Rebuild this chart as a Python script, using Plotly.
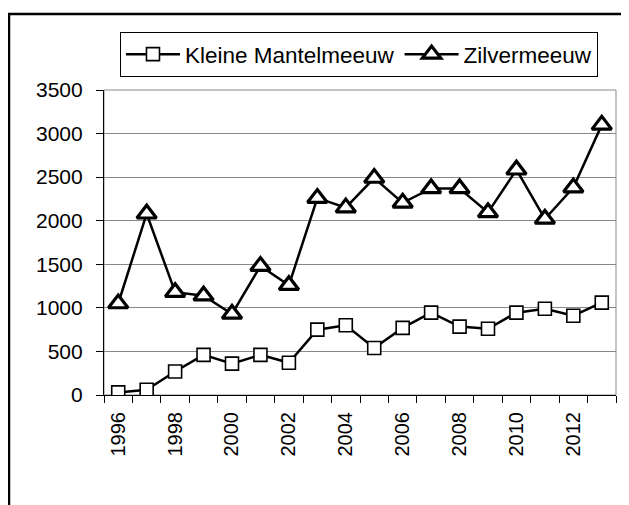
import plotly.graph_objects as go

# ---------------------------------------------------------------------
# Data
# ---------------------------------------------------------------------
YEARS = list(range(1996, 2014))
KLEINE_MANTELMEEUW = [30, 60, 270, 460, 360, 460, 370, 750, 800, 540,
                      770, 945, 785, 760, 945, 990, 910, 1060]
ZILVERMEEUW = [1050, 2080, 1180, 1140, 930, 1480, 1260, 2260, 2150, 2490,
               2205, 2370, 2370, 2095, 2585, 2020, 2380, 3100]
YEAR_LABELS = [y for y in YEARS if y % 2 == 0 and y < 2014]

FONT = "Liberation Sans, Arial, sans-serif"
GRID = "#888888"

# page has an 8px body margin, so the figure is a bit smaller than the window
W, H = 621, 497
L, R, T, B = 96, 13, 82, 110
PW, PH = W - L - R, H - T - B

fig = go.Figure()
fig.add_trace(go.Scatter(
    x=YEARS, y=KLEINE_MANTELMEEUW, name="Kleine Mantelmeeuw", mode="lines+markers",
    line=dict(color="black", width=2.5),
    marker=dict(symbol="square", size=13, color="white", line=dict(color="black", width=1.6)),
))
fig.add_trace(go.Scatter(
    x=YEARS, y=ZILVERMEEUW, name="Zilvermeeuw", mode="lines+markers",
    line=dict(color="black", width=2.5),
    marker=dict(symbol="triangle-up", size=17, color="white", line=dict(color="black", width=3.2)),
))

# plot-area frame (gray) and outer chart border (black)
fig.add_shape(type="rect", xref="paper", yref="paper", x0=0, x1=1, y0=0, y1=1,
              line=dict(color=GRID, width=1), layer="below")
fig.add_shape(type="rect", xref="paper", yref="paper",
              x0=(1 - L) / PW, x1=1.3, y0=-0.6, y1=(T + PH - 6) / PH,
              line=dict(color="black", width=2.5))

fig.update_layout(
    width=W, height=H,
    margin=dict(l=L, r=R, t=T, b=B),
    paper_bgcolor="white", plot_bgcolor="white",
    font=dict(family=FONT, color="black", size=21),
    showlegend=True,
    legend=dict(orientation="h", x=0.498, xanchor="center", y=1 + 13 / PH, yanchor="bottom",
                bordercolor="black", borderwidth=1, font=dict(size=22.5),
                itemwidth=54, tracegroupgap=0),
)
fig.update_xaxes(
    range=[1995.5, 2013.5], tickvals=YEAR_LABELS, ticktext=[str(y) for y in YEAR_LABELS],
    tickangle=-90, ticks="", showgrid=False, zeroline=False,
    showline=True, linecolor="black", linewidth=1.2,
    minor=dict(tick0=1995.5, dtick=1, ticks="outside", ticklen=7, tickcolor="black", showgrid=False),
    tickfont=dict(size=20), ticklabelstandoff=8,
)
fig.update_yaxes(
    range=[0, 3500], dtick=500, ticks="outside", ticklen=7, tickcolor="black",
    showgrid=True, gridcolor=GRID, gridwidth=1, zeroline=False,
    showline=True, linecolor="black", linewidth=1.2,
    tickfont=dict(size=21), ticklabelstandoff=9,
)

fig.write_html("out.html")
